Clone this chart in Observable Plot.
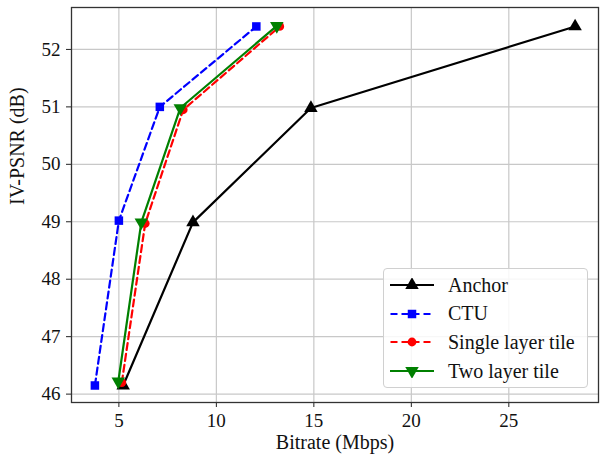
<!DOCTYPE html>
<html>
<head>
<meta charset="utf-8">
<script src="https://cdn.jsdelivr.net/npm/d3@7"></script>
<script src="https://cdn.jsdelivr.net/npm/@observablehq/plot@0.6"></script>
<style>
  body { margin: 0; background: #fff; }
  #wrap { position: relative; width: 604px; height: 456px; font-family: "Liberation Serif", "DejaVu Serif", serif; }
  #wrap svg text { font-family: "Liberation Serif", serif; font-variant: normal; }
  #legend { position: absolute; left: 383px; top: 268px; width: 205px; height: 120px; box-sizing: border-box;
    border: 1px solid #d0d0d0; border-radius: 4px; background: rgba(255,255,255,0.85); }
  .row { position: absolute; left: 6px; height: 28px; display: flex; align-items: center; font-size: 20px; color: #111; }
  .row svg { margin-right: 14px; }
</style>
</head>
<body>
<div id="wrap"></div>
<script>
// Data
const seriesNames = ["Anchor", "CTU", "Single layer tile", "Two layer tile"];
const anchorX = [5.22, 8.8, 14.85, 28.4];
const anchorY = [46.15, 48.99, 50.98, 52.4];
const ctuX = [3.77, 5.0, 7.1, 12.05];
const ctuY = [46.15, 49.02, 51.0, 52.4];
const singleX = [5.15, 6.35, 8.3, 13.25];
const singleY = [46.2, 48.97, 50.95, 52.4];
const twoX = [4.97, 6.15, 8.15, 13.1];
const twoY = [46.22, 48.99, 50.98, 52.41];
const xTicks = [5, 10, 15, 20, 25];
const yTicks = [46, 47, 48, 49, 50, 51, 52];

const styles = [
  {color: "#000000", dash: null, symbol: "triangle", rotate: 0, r: 5},
  {color: "#0000ff", dash: "7,4", symbol: "square", rotate: 0, r: 4.8},
  {color: "#ff0000", dash: "7,4", symbol: "circle", rotate: 0, r: 4.4},
  {color: "#008000", dash: null, symbol: "triangle", rotate: 180, r: 5}
];
const xs = [anchorX, ctuX, singleX, twoX];
const ys = [anchorY, ctuY, singleY, twoY];
const data = seriesNames.map((name, i) => xs[i].map((x, j) => ({series: name, x, y: ys[i][j]})));

const font = "Liberation Serif";
const marks = [
  Plot.gridX(xTicks, {stroke: "#c8c8c8", strokeOpacity: 1, strokeWidth: 1.2}),
  Plot.gridY(yTicks, {stroke: "#c8c8c8", strokeOpacity: 1, strokeWidth: 1.2}),
  Plot.axisX(xTicks, {tickSize: 5, tickPadding: 6, fontSize: 19, fontFamily: font, fontVariant: "normal", label: null, stroke: "#222", fill: "#111", tickFormat: d3.format("d")}),
  Plot.axisY(yTicks, {tickSize: 5, tickPadding: 6, fontSize: 19, fontFamily: font, fontVariant: "normal", label: null, stroke: "#222", fill: "#111", tickFormat: d3.format("d")}),
  Plot.text(["Bitrate (Mbps)"], {frameAnchor: "bottom", dy: 46, fontSize: 20, fontFamily: font, fill: "#111"}),
  Plot.text(["IV-PSNR (dB)"], {frameAnchor: "left", dx: -54, rotate: -90, fontSize: 20, fontFamily: font, fill: "#111"})
];
data.forEach((d, i) => {
  const s = styles[i];
  marks.push(Plot.line(d, {x: "x", y: "y", stroke: s.color, strokeWidth: 2.2, strokeDasharray: s.dash}));
  marks.push(Plot.dot(d, {x: "x", y: "y", symbol: () => s.symbol, fill: s.color, r: s.r, rotate: s.rotate, stroke: "none"}));
});
marks.push(Plot.frame({stroke: "#333", strokeWidth: 1.3}));

const chart = Plot.plot({
  width: 604, height: 456,
  marginLeft: 71, marginRight: 6, marginTop: 7, marginBottom: 54,
  style: {fontFamily: "'Liberation Serif', serif", background: "#fff"},
  x: {domain: [2.57, 29.6]},
  y: {domain: [45.854, 52.73]},
  symbol: {type: "identity"},
  marks
});
const wrap = document.getElementById("wrap");
wrap.appendChild(chart);

// Legend
const legend = document.createElement("div");
legend.id = "legend";
seriesNames.forEach((name, i) => {
  const s = styles[i];
  const row = document.createElement("div");
  row.className = "row";
  row.style.top = (2 + i * 28.7) + "px";
  const sym = s.symbol === "square" ? d3.symbolSquare : s.symbol === "circle" ? d3.symbolCircle : d3.symbolTriangle;
  const path = d3.symbol(sym, Math.PI * s.r * s.r)();
  row.innerHTML = `<svg width="44" height="14" viewBox="0 0 44 14">
    <line x1="0" x2="44" y1="7" y2="7" stroke="${s.color}" stroke-width="2.2" ${s.dash ? `stroke-dasharray="7,4" stroke-dashoffset="-0.5"` : ""}/>
    <path d="${path}" transform="translate(22,7) rotate(${s.rotate})" fill="${s.color}"/>
  </svg><span>${name}</span>`;
  legend.appendChild(row);
});
wrap.appendChild(legend);
</script>
</body>
</html>
